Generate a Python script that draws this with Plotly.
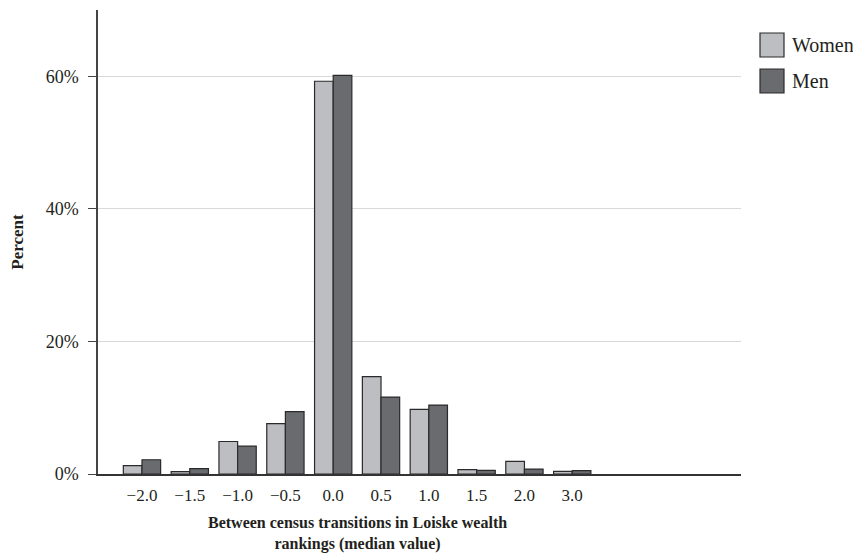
import plotly.graph_objects as go

categories = ["−2.0", "−1.5", "−1.0", "−0.5", "0.0", "0.5", "1.0", "1.5", "2.0", "3.0"]
women = [1.25, 0.35, 4.9, 7.6, 59.25, 14.7, 9.75, 0.65, 1.9, 0.4]
men = [2.15, 0.8, 4.2, 9.4, 60.15, 11.6, 10.4, 0.55, 0.75, 0.5]
y_ticks = [0, 20, 40, 60]
y_tick_labels = ["0%", "20%", "40%", "60%"]
women_color = "#bdbec2"
men_color = "#6a6b6e"

FONT = "Liberation Serif, DejaVu Serif, serif"
TXT = "#231f20"

fig = go.Figure()
fig.add_trace(go.Bar(x=categories, y=women, name="Women", marker=dict(color=women_color, line=dict(color="#2a2a2a", width=1.2)), showlegend=False))
fig.add_trace(go.Bar(x=categories, y=men, name="Men", marker=dict(color=men_color, line=dict(color="#2a2a2a", width=1.2)), showlegend=False))

# page body has an 8px margin; work in screenshot pixels and offset
OFF = 8
W, H = 861 - OFF, 559 - OFF
L, T = 98 - OFF, 10 - OFF
plot_right = 741 - OFF
plot_bottom = 474 - OFF
R = W - plot_right
B = H - plot_bottom
pw = W - L - R
ph = H - T - B

def px_x(x):
    return (x - OFF - L) / pw

def px_y(y):
    return (plot_bottom - (y - OFF)) / ph

fig.update_layout(
    width=W, height=H,
    margin=dict(l=L, r=R, t=T, b=B, autoexpand=False),
    paper_bgcolor="white", plot_bgcolor="white",
    barmode="group", bargap=0.22, bargroupgap=0.0,
    font=dict(family=FONT, size=17, color=TXT),
    xaxis=dict(
        type="category", range=[-0.92, 12.53],
        showline=True, linecolor="#333", linewidth=1.5,
        ticks="", showgrid=False, tickfont=dict(size=17, color=TXT),
        ticklabelstandoff=5,
        fixedrange=True,
    ),
    yaxis=dict(
        range=[0, 70], tickmode="array", tickvals=y_ticks, ticktext=y_tick_labels,
        showline=True, linecolor="#444", linewidth=1.5,
        ticks="outside", ticklen=8, tickcolor="#444", tickwidth=1.2,
        ticklabelstandoff=6,
        showgrid=True, gridcolor="#d9d9d9", gridwidth=1.2,
        zeroline=False, tickfont=dict(size=18, color=TXT),
        title=dict(text="<b>Percent</b>", font=dict(size=17, color=TXT), standoff=22),
    ),
)

# x-axis title centred on the categories
fig.add_annotation(
    xref="paper", yref="paper", x=px_x(357), y=px_y(533), yanchor="middle",
    text="<b>Between census transitions in Loiske wealth<br>rankings (median value)</b>",
    showarrow=False, font=dict(size=16, family=FONT, color=TXT), align="center",
)

# custom legend
legend_items = [("Women", women_color, 33), ("Men", men_color, 69)]
for name, color, top in legend_items:
    fig.add_shape(type="rect", xref="paper", yref="paper",
                  x0=px_x(760), x1=px_x(784), y0=px_y(top + 24), y1=px_y(top),
                  fillcolor=color, line=dict(color="#2a2a2a", width=1.2))
    fig.add_annotation(xref="paper", yref="paper", x=px_x(790), y=px_y(top + 12),
                       xanchor="left", yanchor="middle", text=name, showarrow=False,
                       font=dict(size=20, family=FONT, color=TXT))

fig.write_html("out.html")
